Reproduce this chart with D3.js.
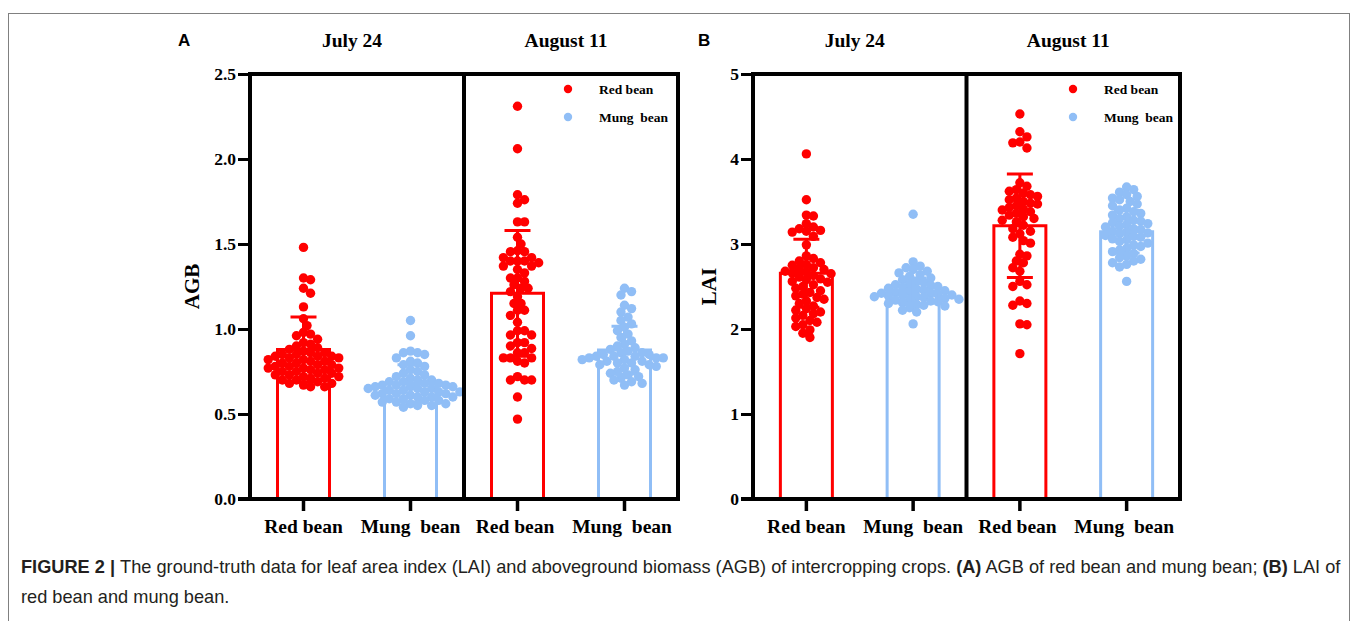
<!DOCTYPE html>
<html>
<head>
<meta charset="utf-8">
<script src="https://cdn.jsdelivr.net/npm/d3@7"></script>
<style>
  html, body { margin: 0; padding: 0; background: #fff; }
  svg { display: block; }
  .serif { font-family: "Liberation Serif", "Times New Roman", serif; font-weight: bold; }
  .cap { font-family: "Liberation Sans", Arial, sans-serif; fill: #231f20; }
</style>
</head>
<body>
<div id="chart"></div>
<script>
const W = 1357, H = 621;

const categories = ['Red bean', 'Mung  bean', 'Red bean ', 'Mung  bean '];
const dates = ['July 24', 'August 11'];
const seriesNames = ['Red bean', 'Mung  bean'];
const colors = ['#ff0000', '#90bef6'];

// AGB values (panel A), per date x crop
const agbJulyRed = [1.48, 1.30, 1.29, 1.24, 1.21, 1.13, 1.06, 1.02, 0.98, 0.97, 0.96, 0.94, 0.92, 0.91, 0.90,
  0.89, 0.88, 0.87, 0.86, 0.86, 0.85, 0.85, 0.84, 0.84, 0.84, 0.83, 0.83, 0.82, 0.82, 0.81, 0.81, 0.80, 0.80,
  0.79, 0.79, 0.78, 0.78, 0.77, 0.77, 0.77, 0.76, 0.76, 0.75, 0.75, 0.74, 0.74, 0.73, 0.73, 0.72, 0.72, 0.71,
  0.71, 0.70, 0.70, 0.69, 0.68, 0.68, 0.67, 0.66, 0.66];
const agbJulyMung = [1.05, 0.96, 0.87, 0.86, 0.86, 0.85, 0.83, 0.81, 0.80, 0.79, 0.78, 0.76, 0.75, 0.74, 0.73,
  0.72, 0.71, 0.70, 0.70, 0.69, 0.69, 0.68, 0.68, 0.67, 0.67, 0.67, 0.66, 0.66, 0.66, 0.65, 0.65, 0.65, 0.64,
  0.64, 0.63, 0.63, 0.63, 0.62, 0.62, 0.62, 0.61, 0.61, 0.60, 0.60, 0.60, 0.59, 0.59, 0.58, 0.58, 0.57, 0.57,
  0.56, 0.56, 0.55, 0.55, 0.54];
const agbAugRed = [2.31, 2.06, 1.79, 1.76, 1.74, 1.63, 1.63, 1.54, 1.50, 1.46, 1.455, 1.455, 1.42, 1.42, 1.40,
  1.40, 1.40, 1.39, 1.37, 1.37, 1.35, 1.33, 1.30, 1.30, 1.28, 1.26, 1.24, 1.24, 1.22, 1.19, 1.15, 1.15, 1.11,
  1.11, 1.08, 1.04, 0.99, 0.99, 0.965, 0.965, 0.92, 0.92, 0.90, 0.885, 0.86, 0.86, 0.83, 0.83, 0.83, 0.81,
  0.80, 0.72, 0.70, 0.70, 0.70, 0.60, 0.47];
const agbAugMung = [1.24, 1.22, 1.20, 1.14, 1.12, 1.10, 1.07, 1.05, 1.03, 1.01, 0.99, 0.97, 0.95, 0.93, 0.91,
  0.90, 0.89, 0.88, 0.87, 0.86, 0.86, 0.85, 0.85, 0.84, 0.84, 0.84, 0.83, 0.83, 0.83, 0.82, 0.82, 0.81, 0.81,
  0.80, 0.80, 0.79, 0.79, 0.78, 0.77, 0.76, 0.75, 0.74, 0.73, 0.72, 0.71, 0.70, 0.69, 0.68, 0.67];
const agbMean = [0.88, 0.68, 1.21, 0.876];
const agbSd = [0.19, 0.11, 0.37, 0.14];

// LAI values (panel B)
const laiJulyRed = [4.06, 3.52, 3.34, 3.33, 3.24, 3.20, 3.18, 3.16, 3.15, 3.14, 3.09, 2.99, 2.86, 2.83, 2.80,
  2.78, 2.76, 2.75, 2.72, 2.71, 2.70, 2.68, 2.67, 2.66, 2.65, 2.63, 2.61, 2.59, 2.58, 2.56, 2.55, 2.52, 2.50,
  2.48, 2.45, 2.43, 2.41, 2.39, 2.37, 2.35, 2.33, 2.30, 2.27, 2.24, 2.22, 2.20, 2.18, 2.16, 2.13, 2.10, 2.08,
  2.05, 2.03, 1.99, 1.95, 1.90];
const laiJulyMung = [3.35, 2.79, 2.74, 2.72, 2.70, 2.68, 2.66, 2.64, 2.62, 2.60, 2.58, 2.56, 2.55, 2.53, 2.52,
  2.51, 2.50, 2.49, 2.48, 2.47, 2.46, 2.45, 2.44, 2.43, 2.42, 2.42, 2.41, 2.40, 2.40, 2.39, 2.38, 2.38, 2.37,
  2.36, 2.35, 2.35, 2.34, 2.33, 2.32, 2.31, 2.30, 2.29, 2.28, 2.27, 2.25, 2.22, 2.20, 2.06];
const laiAugRed = [4.53, 4.32, 4.26, 4.20, 4.19, 4.13, 3.72, 3.68, 3.64, 3.62, 3.60, 3.58, 3.56, 3.54, 3.52,
  3.50, 3.48, 3.47, 3.45, 3.43, 3.41, 3.40, 3.38, 3.36, 3.34, 3.32, 3.30, 3.28, 3.26, 3.22, 3.18, 3.15, 3.12,
  3.08, 3.04, 3.01, 2.88, 2.86, 2.80, 2.78, 2.72, 2.68, 2.56, 2.52, 2.50, 2.33, 2.30, 2.28, 2.06, 2.05, 1.71];
const laiAugMung = [3.67, 3.64, 3.61, 3.58, 3.56, 3.54, 3.52, 3.50, 3.47, 3.45, 3.42, 3.40, 3.38, 3.36, 3.34,
  3.32, 3.30, 3.28, 3.27, 3.25, 3.24, 3.23, 3.21, 3.20, 3.18, 3.17, 3.15, 3.14, 3.13, 3.12, 3.10, 3.09, 3.08,
  3.06, 3.05, 3.03, 3.01, 2.99, 2.97, 2.95, 2.93, 2.91, 2.89, 2.86, 2.84, 2.82, 2.80, 2.78, 2.76, 2.73, 2.56];
const laiMean = [2.655, 2.45, 3.215, 3.145];
const laiSd = [0.40, 0.15, 0.61, 0.25];

const agbTicks = [0, 0.5, 1.0, 1.5, 2.0, 2.5];
const laiTicks = [0, 1, 2, 3, 4, 5];

const captionBold = 'FIGURE 2 | ';
const captionLine1 = 'The ground-truth data for leaf area index (LAI) and aboveground biomass (AGB) of intercropping crops. ';
const captionLine1b = ' AGB of red bean and mung bean; ';
const captionLine1c = ' LAI of';
const captionLine2 = 'red bean and mung bean.';

const svg = d3.select('#chart').append('svg')
    .attr('width', W)
    .attr('height', H);

// outer frame of the figure
svg.append('rect')
    .attr('x', 8.5).attr('y', 13.5)
    .attr('width', 1341).attr('height', 700)
    .attr('fill', 'none')
    .attr('stroke', '#808080')
    .attr('stroke-width', 1);

const plotTop = 74, plotBottom = 499;
const dotR = 4.7;

// simple beeswarm: place each point at the nearest free horizontal offset
function swarm(values, y, r) {
    const placed = [];
    const step = r * 0.75;
    const minD = r * 1.5;
    const sorted = values.slice().sort((a, b) => b - a);
    sorted.forEach(v => {
        const cy = y(v);
        let dx = 0;
        for (let k = 0; k < 80; k++) {
            const cand = k === 0 ? 0 : (k % 2 ? 1 : -1) * Math.ceil(k / 2) * step;
            const ok = placed.every(p => Math.hypot(p.dx - cand, p.cy - cy) >= minD);
            if (ok) { dx = cand; break; }
        }
        placed.push({ v, cy, dx });
    });
    return placed;
}

function drawPanel(cfg) {
    const x = d3.scaleBand()
        .domain(categories)
        .range([cfg.left, cfg.right])
        .paddingInner(0)
        .paddingOuter(0);

    const y = d3.scaleLinear()
        .domain([0, cfg.max])
        .range([plotBottom, plotTop]);

    const g = svg.append('g');
    const barW = 52;

    // dots
    cfg.groups.forEach((vals, i) => {
        const cx = x(categories[i]) + x.bandwidth() / 2;
        const pts = swarm(vals, y, dotR);
        g.append('g')
            .selectAll('circle')
            .data(pts)
            .join('circle')
            .attr('cx', d => cx + d.dx)
            .attr('cy', d => d.cy)
            .attr('r', dotR)
            .attr('fill', colors[i % 2]);
    });

    // bars (outline only) and error bars
    cfg.mean.forEach((m, i) => {
        const cx = x(categories[i]) + x.bandwidth() / 2;
        const col = colors[i % 2];
        g.append('path')
            .attr('d', `M${cx - barW / 2},${y(0)}V${y(m)}H${cx + barW / 2}V${y(0)}`)
            .attr('fill', 'none')
            .attr('stroke', col)
            .attr('stroke-width', 3);
        const sd = cfg.sd[i];
        const capW = 26;
        g.append('path')
            .attr('d', `M${cx},${y(m - sd)}V${y(m + sd)}` +
                `M${cx - capW / 2},${y(m + sd)}H${cx + capW / 2}` +
                `M${cx - capW / 2},${y(m - sd)}H${cx + capW / 2}`)
            .attr('fill', 'none')
            .attr('stroke', col)
            .attr('stroke-width', 3);
    });

    // frame and divider
    const mid = x(categories[2]);
    g.append('path')
        .attr('d', `M${cfg.left},${plotTop}H${cfg.right}V${plotBottom}M${mid},${plotTop}V${plotBottom}`)
        .attr('fill', 'none')
        .attr('stroke', '#000')
        .attr('stroke-width', 4);

    // y axis
    const yAxis = g.append('g')
        .attr('transform', `translate(${cfg.left},0)`)
        .call(d3.axisLeft(y).tickValues(cfg.ticks).tickFormat(cfg.fmt).tickSize(12).tickPadding(2).tickSizeOuter(0));
    yAxis.select('.domain').attr('stroke-width', 4).attr('d', `M0,${plotTop - 2}V${plotBottom + 2}`);
    yAxis.selectAll('.tick line').attr('stroke-width', 3);
    yAxis.selectAll('.tick text')
        .attr('font-size', 17.5)
        .attr('font-family', '"Liberation Serif", serif')
        .attr('font-weight', 'bold')
        .attr('fill', '#000');

    // x axis
    const xAxis = g.append('g')
        .attr('transform', `translate(0,${plotBottom})`)
        .call(d3.axisBottom(x).tickSize(12).tickPadding(8).tickSizeOuter(0));
    xAxis.select('.domain').attr('stroke-width', 4).attr('d', `M${cfg.left - 12},0H${cfg.right + 2}`);
    xAxis.selectAll('.tick line').attr('stroke-width', 3.5);
    xAxis.selectAll('.tick text')
        .attr('font-size', 19.5)
        .attr('font-family', '"Liberation Serif", serif')
        .attr('font-weight', 'bold')
        .attr('fill', '#000')
        .style('white-space', 'pre');

    // date titles
    dates.forEach((dname, j) => {
        const c0 = x(categories[j * 2]) + x.bandwidth() / 2;
        const c1 = x(categories[j * 2 + 1]) + x.bandwidth() / 2;
        svg.append('text')
            .attr('class', 'serif')
            .attr('x', (c0 + c1) / 2 - 5)
            .attr('y', 47)
            .attr('text-anchor', 'middle')
            .attr('font-size', 19.5)
            .text(dname);
    });

    // panel letter
    svg.append('text')
        .attr('x', cfg.letterX)
        .attr('y', 46)
        .attr('font-family', '"Liberation Sans", Arial, sans-serif')
        .attr('font-weight', 'bold')
        .attr('font-size', 17)
        .text(cfg.letter);

    // y title
    svg.append('text')
        .attr('class', 'serif')
        .attr('transform', `translate(${cfg.titleX},${(plotTop + plotBottom) / 2}) rotate(-90)`)
        .attr('text-anchor', 'middle')
        .attr('font-size', 21)
        .text(cfg.yTitle);

    // legend
    seriesNames.forEach((s, i) => {
        const ly = 89 + i * 28;
        svg.append('circle')
            .attr('cx', cfg.legendX)
            .attr('cy', ly)
            .attr('r', 4.2)
            .attr('fill', colors[i]);
        svg.append('text')
            .attr('class', 'serif')
            .attr('x', cfg.legendX + 31)
            .attr('y', ly + 4.5)
            .attr('font-size', 13.5)
            .style('white-space', 'pre')
            .text(s);
    });
}

drawPanel({
    left: 250, right: 678, max: 2.5, ticks: agbTicks, fmt: d3.format('.1f'),
    groups: [agbJulyRed, agbJulyMung, agbAugRed, agbAugMung],
    mean: agbMean, sd: agbSd,
    letter: 'A', letterX: 178, yTitle: 'AGB', titleX: 199, legendX: 568
});

drawPanel({
    left: 753, right: 1180, max: 5, ticks: laiTicks, fmt: d3.format('d'),
    groups: [laiJulyRed, laiJulyMung, laiAugRed, laiAugMung],
    mean: laiMean, sd: laiSd,
    letter: 'B', letterX: 698, yTitle: 'LAI', titleX: 716, legendX: 1073
});

// caption
const capSize = 18.2;
const cap1 = svg.append('text')
    .attr('class', 'cap')
    .attr('x', 21)
    .attr('y', 573)
    .attr('font-size', capSize)
    .style('white-space', 'pre');
cap1.append('tspan').attr('font-weight', 'bold').text(captionBold);
cap1.append('tspan').text(captionLine1);
cap1.append('tspan').attr('font-weight', 'bold').text('(A)');
cap1.append('tspan').text(captionLine1b);
cap1.append('tspan').attr('font-weight', 'bold').text('(B)');
cap1.append('tspan').text(captionLine1c);

svg.append('text')
    .attr('class', 'cap')
    .attr('x', 21)
    .attr('y', 603)
    .attr('font-size', capSize)
    .text(captionLine2);
</script>
</body>
</html>
